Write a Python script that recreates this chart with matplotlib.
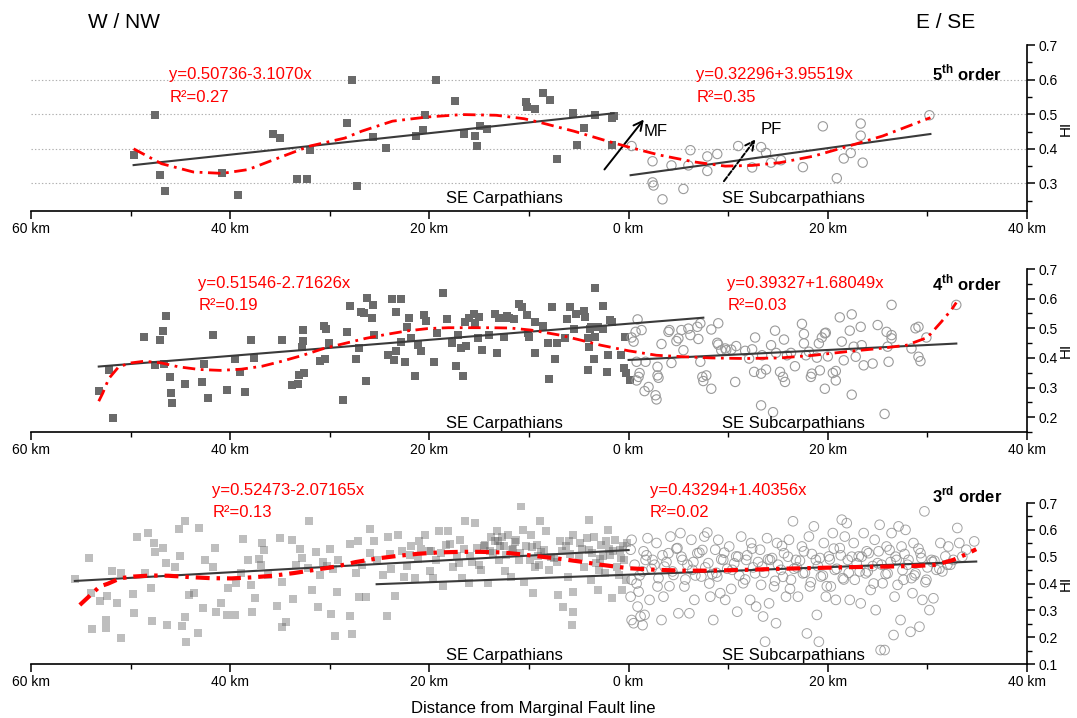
import numpy as np
import matplotlib
matplotlib.use("Agg")
import matplotlib.pyplot as plt
from matplotlib.ticker import FixedLocator, MultipleLocator

plt.rcParams['font.family'] = ['Liberation Sans', 'DejaVu Sans']
plt.rcParams['lines.scale_dashes'] = False

## data (distance in km, negative = W/NW of the Marginal Fault)
xticks = [-60, -40, -20, 0, 20, 40]
xticklabels = ["60 km", "40 km", "20 km", "0 km", "20 km", "40 km"]

# 5th order
p1_sq_km = [-49.7, -47.6, -47.0, -46.5, -40.8, -39.2, -35.7, -35.0, -33.3, -32.3, -32.0, -28.3, -27.8,
            -27.3, -25.7, -24.4, -21.3, -20.6, -20.4, -19.3, -17.4, -16.5, -15.4, -15.2, -14.9, -14.2,
            -10.3, -10.2, -9.4, -8.6, -7.9, -7.2, -5.6, -5.2, -4.5, -3.4, -1.7, -1.5, -1.7]
p1_sq_hi = [0.383, 0.498, 0.324, 0.279, 0.330, 0.267, 0.444, 0.432, 0.312, 0.312, 0.398, 0.474, 0.599,
            0.292, 0.434, 0.402, 0.437, 0.454, 0.498, 0.600, 0.537, 0.443, 0.438, 0.409, 0.465, 0.456,
            0.534, 0.520, 0.516, 0.560, 0.540, 0.372, 0.503, 0.411, 0.460, 0.497, 0.490, 0.495, 0.411]
p1_ci_km = [0.3, 2.4, 2.4, 2.5, 3.4, 4.3, 5.5, 6.2, 6.0, 7.9, 7.9, 8.9, 11.0, 12.4, 13.3, 13.8, 14.3,
            15.3, 17.5, 19.5, 20.9, 21.6, 22.3, 23.3, 23.3, 23.5, 30.2]
p1_ci_hi = [0.408, 0.364, 0.303, 0.294, 0.254, 0.352, 0.284, 0.396, 0.352, 0.378, 0.336, 0.385, 0.408,
            0.346, 0.405, 0.388, 0.360, 0.367, 0.347, 0.465, 0.315, 0.372, 0.388, 0.473, 0.438, 0.360,
            0.497]
p1_curve_km = [-49.7, -46.9, -43.7, -40.8, -38.2, -35.4, -32.0, -28.5, -26.8, -23.7, -20.2, -16.7, -13.3,
               -10.5, -9.0, -5.5, -2.1, 0.0, 3.1, 6.6, 9.7, 12.4, 15.2, 18.6, 22.1, 25.5, 30.3]
p1_curve_hi = [0.400, 0.357, 0.333, 0.329, 0.340, 0.371, 0.408, 0.431, 0.451, 0.480, 0.492, 0.499, 0.497,
               0.487, 0.477, 0.451, 0.422, 0.405, 0.382, 0.362, 0.350, 0.352, 0.360, 0.379, 0.408, 0.437,
               0.490]

# 4th order
p2_sq_km = [-53.2, -52.2, -51.8, -48.7, -47.6, -47.1, -46.7, -46.4, -46.6, -46.0, -45.9, -45.8, -44.5,
            -42.8, -42.6, -42.2, -41.7, -40.3, -39.5, -39.0, -38.5, -37.9, -37.6, -34.8, -33.8, -33.2,
            -33.1, -32.6, -32.8, -32.7, -32.7, -30.6, -30.4, -31.0, -30.5, -30.1, -28.7, -28.3, -28.0,
            -27.4, -27.1, -26.9, -26.6, -26.4, -26.3, -25.8, -25.7, -25.6, -24.2, -23.8, -23.6, -23.4,
            -23.4, -22.9, -22.9, -22.5, -22.3, -22.1, -21.8, -21.4, -21.1, -20.8, -20.5, -20.3, -19.5,
            -19.2, -18.6, -18.2, -17.7, -17.3, -17.1, -16.8, -16.6, -16.3, -16.4, -16.0, -15.5, -15.4,
            -15.1, -15.0, -14.7, -14.0, -13.4, -13.2, -13.0, -12.6, -12.5, -12.2, -12.0, -11.5, -11.0,
            -10.7, -10.2, -10.1, -10.0, -9.4, -9.4, -8.6, -8.1, -8.0, -7.7, -7.4, -7.2, -6.4, -6.2,
            -5.9, -5.5, -5.3, -4.5, -4.4, -4.1, -4.0, -3.9, -4.1, -3.8, -3.5, -3.4, -3.1, -3.4, -2.6,
            -2.6, -2.2, -2.1, -1.9, -1.7, -0.8, -0.5, -0.4, -0.3, 0.1]
p2_sq_hi = [0.287, 0.358, 0.197, 0.469, 0.375, 0.462, 0.491, 0.542, 0.379, 0.335, 0.282, 0.248, 0.311,
            0.319, 0.378, 0.266, 0.476, 0.292, 0.398, 0.354, 0.284, 0.462, 0.399, 0.459, 0.307, 0.313,
            0.343, 0.350, 0.438, 0.458, 0.495, 0.509, 0.496, 0.390, 0.398, 0.449, 0.259, 0.488, 0.576,
            0.398, 0.435, 0.556, 0.551, 0.322, 0.602, 0.534, 0.580, 0.477, 0.410, 0.598, 0.393, 0.554,
            0.422, 0.600, 0.455, 0.386, 0.505, 0.534, 0.466, 0.340, 0.443, 0.423, 0.545, 0.526, 0.385,
            0.483, 0.619, 0.531, 0.449, 0.372, 0.477, 0.434, 0.338, 0.440, 0.522, 0.534, 0.548, 0.519,
            0.466, 0.538, 0.426, 0.477, 0.548, 0.418, 0.534, 0.534, 0.471, 0.542, 0.534, 0.530, 0.582,
            0.571, 0.545, 0.483, 0.471, 0.522, 0.416, 0.509, 0.452, 0.330, 0.571, 0.398, 0.452, 0.466,
            0.530, 0.573, 0.496, 0.547, 0.560, 0.539, 0.466, 0.438, 0.499, 0.358, 0.503, 0.398, 0.471,
            0.505, 0.636, 0.576, 0.499, 0.353, 0.409, 0.528, 0.522, 0.411, 0.366, 0.471, 0.349, 0.324]
p2_ci_km = [0.9, 0.7, 1.3, 0.3, 0.5, 0.8, 1.1, 0.8, 1.0, 1.6, 2.0, 1.7, 2.7, 2.8, 2.9, 3.0, 2.9, 3.3,
            4.1, 4.0, 4.3, 4.8, 5.0, 5.3, 5.5, 6.0, 6.2, 6.9, 7.0, 7.2, 7.2, 7.4, 7.5, 7.8, 8.3, 8.3,
            9.0, 8.9, 9.0, 9.3, 9.7, 9.8, 10.3, 10.8, 10.7, 11.7, 12.1, 12.4, 12.7, 12.6, 13.3, 13.3,
            13.4, 13.8, 14.3, 14.7, 14.5, 14.8, 15.2, 15.5, 15.7, 15.6, 15.9, 16.3, 16.7, 17.4, 17.6,
            17.6, 17.8, 18.1, 18.3, 18.4, 18.9, 19.1, 19.2, 19.4, 19.7, 19.8, 19.7, 20.0, 20.5, 20.8,
            20.8, 21.2, 21.4, 21.6, 22.2, 22.4, 22.4, 22.6, 22.8, 23.3, 23.4, 23.6, 24.5, 25.0, 25.7,
            25.9, 26.0, 26.1, 26.4, 26.4, 26.4, 28.4, 28.8, 29.1, 29.1, 29.3, 29.9, 32.9]
p2_ci_hi = [0.530, 0.488, 0.494, 0.469, 0.455, 0.387, 0.349, 0.324, 0.336, 0.288, 0.302, 0.387, 0.274,
            0.260, 0.341, 0.333, 0.370, 0.447, 0.494, 0.488, 0.383, 0.457, 0.466, 0.494, 0.426, 0.499,
            0.477, 0.505, 0.464, 0.517, 0.387, 0.336, 0.322, 0.341, 0.496, 0.296, 0.517, 0.451, 0.445,
            0.426, 0.432, 0.426, 0.428, 0.440, 0.319, 0.424, 0.398, 0.429, 0.469, 0.353, 0.240, 0.347,
            0.409, 0.361, 0.443, 0.492, 0.217, 0.417, 0.353, 0.336, 0.319, 0.462, 0.409, 0.417, 0.372,
            0.515, 0.481, 0.449, 0.409, 0.421, 0.336, 0.347, 0.401, 0.449, 0.358, 0.469, 0.483, 0.485,
            0.296, 0.405, 0.349, 0.324, 0.356, 0.537, 0.455, 0.392, 0.492, 0.547, 0.276, 0.438, 0.404,
            0.505, 0.443, 0.375, 0.381, 0.511, 0.211, 0.488, 0.438, 0.387, 0.579, 0.466, 0.477, 0.432,
            0.500, 0.505, 0.404, 0.389, 0.469, 0.579]
p2_curve_km = [-53.2, -52.8, -52.2, -51.2, -50.0, -48.6, -46.9, -45.2, -43.1, -41.0, -38.9, -36.8, -34.8,
               -32.7, -30.6, -28.5, -26.4, -24.4, -22.3, -20.2, -18.1, -16.1, -14.0, -11.9, -9.8, -6.9,
               -4.8, -2.8, 0.0, 2.8, 5.5, 8.3, 11.7, 15.2, 18.6, 22.1, 25.5, 27.9, 30.0, 31.4, 32.4, 32.9]
p2_curve_hi = [0.254, 0.281, 0.330, 0.370, 0.383, 0.389, 0.383, 0.370, 0.361, 0.358, 0.362, 0.372, 0.389,
               0.409, 0.432, 0.449, 0.466, 0.479, 0.491, 0.499, 0.502, 0.502, 0.502, 0.501, 0.494, 0.477,
               0.460, 0.443, 0.424, 0.409, 0.404, 0.400, 0.398, 0.400, 0.409, 0.422, 0.433, 0.443, 0.469,
               0.522, 0.562, 0.587]

# 3rd order
p3_sq_km = [-55.6, -54.2, -54.0, -53.9, -53.1, -52.5, -52.5, -52.4, -51.9, -51.4, -51.0, -51.0, -49.8,
            -49.7, -49.4, -48.6, -48.3, -48.0, -47.9, -47.7, -47.6, -46.7, -46.4, -46.3, -45.5, -45.1,
            -45.0, -44.8, -44.5, -44.5, -44.4, -44.1, -43.6, -43.2, -43.1, -42.7, -42.5, -41.7, -41.5,
            -41.4, -40.9, -40.3, -40.2, -39.5, -39.4, -38.7, -38.2, -37.9, -37.8, -37.5, -37.1, -36.9,
            -36.8, -36.6, -35.3, -35.0, -34.8, -34.8, -34.4, -33.8, -33.7, -33.0, -32.8, -32.2, -32.1,
            -31.8, -31.4, -31.2, -31.0, -30.7, -30.3, -30.0, -29.9, -29.5, -29.3, -29.2, -28.0, -28.0,
            -27.8, -27.4, -27.2, -27.1, -26.4, -26.0, -26.0, -25.6, -25.3, -24.7, -24.3, -24.2, -23.9,
            -23.5, -23.2, -22.8, -22.6, -22.3, -21.8, -21.4, -21.1, -21.0, -20.4, -20.0, -19.9, -19.6,
            -19.3, -19.0, -18.6, -18.3, -18.1, -17.6, -17.2, -16.9, -16.7, -16.4, -16.0, -15.7, -15.4,
            -15.2, -14.8, -14.5, -14.1, -13.8, -13.6, -13.4, -13.2, -13.0, -12.7, -12.5, -12.4, -12.1,
            -11.8, -11.7, -11.3, -11.0, -10.8, -10.6, -10.5, -10.3, -9.9, -9.8, -9.6, -9.4, -9.2, -9.1,
            -8.9, -8.3, -8.5, -8.0, -7.5, -7.1, -6.9, -6.6, -6.3, -6.1, -5.7, -5.6, -5.6, -5.6, -5.0,
            -4.9, -4.5, -4.0, -4.0, -3.8, -3.5, -3.3, -3.1, -2.8, -2.6, -2.4, -2.3, -2.1, -1.7, -1.6,
            -1.4, -1.2, -1.0, -0.9, -0.7, -0.5, -0.3, -0.2,
            -24.0, -22.0, -20.8, -19.8, -18.8, -17.9, -16.5, -15.9, -14.4, -13.9, -12.9, -12.3, -11.6,
            -10.9, -9.7, -8.8, -7.8, -6.7, -5.9, -4.7, -3.7, -2.9, -1.9, -0.8, -13.1, -11.4, -6.0,
            -4.2, -2.0, -0.6, -17.0, -15.0, -9.0, -7.2, -3.0, -26.8, -29.7, -33.4, -36.2, -38.9]
p3_sq_hi = [0.416, 0.495, 0.366, 0.229, 0.333, 0.264, 0.233, 0.354, 0.445, 0.329, 0.198, 0.438, 0.361,
            0.289, 0.575, 0.438, 0.588, 0.385, 0.262, 0.551, 0.519, 0.532, 0.476, 0.245, 0.463, 0.604,
            0.503, 0.242, 0.634, 0.277, 0.183, 0.358, 0.364, 0.214, 0.607, 0.308, 0.488, 0.461, 0.532,
            0.295, 0.329, 0.283, 0.382, 0.283, 0.401, 0.566, 0.488, 0.394, 0.295, 0.345, 0.491, 0.470,
            0.551, 0.526, 0.316, 0.569, 0.404, 0.239, 0.255, 0.563, 0.341, 0.528, 0.495, 0.457, 0.634,
            0.376, 0.516, 0.314, 0.432, 0.482, 0.466, 0.528, 0.287, 0.204, 0.370, 0.488, 0.548, 0.279,
            0.211, 0.441, 0.557, 0.351, 0.351, 0.603, 0.513, 0.557, 0.488, 0.432, 0.279, 0.573, 0.453,
            0.354, 0.582, 0.520, 0.426, 0.466, 0.538, 0.420, 0.491, 0.557, 0.582, 0.520, 0.445, 0.420,
            0.488, 0.594, 0.389, 0.544, 0.594, 0.463, 0.501, 0.563, 0.420, 0.632, 0.401, 0.482, 0.625,
            0.532, 0.451, 0.538, 0.401, 0.573, 0.513, 0.557, 0.594, 0.488, 0.575, 0.538, 0.448, 0.582,
            0.426, 0.526, 0.563, 0.488, 0.688, 0.600, 0.407, 0.538, 0.488, 0.582, 0.364, 0.463, 0.544,
            0.501, 0.632, 0.594, 0.526, 0.451, 0.495, 0.358, 0.557, 0.314, 0.538, 0.426, 0.245, 0.582,
            0.295, 0.370, 0.501, 0.551, 0.463, 0.638, 0.526, 0.414, 0.575, 0.476, 0.376, 0.544, 0.501,
            0.438, 0.557, 0.600, 0.345, 0.520, 0.563, 0.463, 0.432, 0.526, 0.376, 0.488, 0.414, 0.551,
            0.510, 0.505, 0.530, 0.520, 0.512, 0.548, 0.530, 0.502, 0.545, 0.520, 0.540, 0.505, 0.528,
            0.515, 0.535, 0.518, 0.500, 0.520, 0.510, 0.530, 0.512, 0.490, 0.508, 0.495, 0.560, 0.555,
            0.560, 0.570, 0.530, 0.540, 0.478, 0.470, 0.470, 0.480, 0.450, 0.470, 0.455, 0.470, 0.430,
            0.440]
p3_ci_km = [0.3, 0.2, 0.3, 0.2, 0.3, 0.5, 0.9, 1.0, 1.2, 1.4, 1.6, 1.4, 1.7, 1.9, 2.1, 2.4, 2.8, 2.9,
            3.3, 3.5, 3.6, 4.0, 4.2, 4.5, 4.9, 5.0, 5.2, 5.4, 5.6, 6.1, 6.3, 6.4, 6.6, 6.9, 7.3, 7.6,
            7.9, 8.0, 8.2, 8.5, 8.7, 8.9, 9.0, 9.2, 9.5, 9.7, 10.1, 10.4, 10.8, 10.9, 11.3, 11.5, 11.8,
            12.2, 12.3, 12.7, 12.8, 13.2, 13.4, 13.5, 13.7, 13.9, 14.1, 14.2, 14.6, 14.8, 14.9, 15.3,
            15.6, 15.8, 16.1, 16.3, 16.5, 16.8, 17.0, 17.4, 17.5, 17.9, 18.1, 18.2, 18.6, 18.8, 18.9,
            19.1, 19.3, 19.6, 19.8, 20.1, 20.3, 20.5, 20.7, 20.8, 21.2, 21.4, 21.5, 21.7, 21.9, 22.0,
            22.2, 22.6, 22.7, 23.1, 23.3, 23.6, 23.8, 24.1, 24.3, 24.7, 24.8, 25.0, 25.2, 25.3, 25.7,
            25.5, 25.9, 26.0, 26.4, 26.6, 26.7, 26.9, 27.1, 27.3, 27.4, 27.6, 27.8, 28.1, 28.3, 28.5,
            28.6, 28.8, 29.2, 29.3, 29.5, 29.7, 29.9, 30.2, 30.4, 30.6, 30.9, 31.3, 31.8, 32.1, 32.6,
            33.0, 33.2, 33.9, 34.7,
            0.6, 1.1, 1.8, 2.3, 3.0, 3.8, 4.4, 5.3, 5.9, 6.7, 7.1, 7.7, 8.4, 9.3, 9.9, 10.6, 11.1,
            11.9, 12.5, 13.0, 13.6, 14.4, 15.0, 15.5, 16.0, 16.6, 17.2, 17.7, 18.4, 19.0, 19.5, 20.2,
            20.9, 21.3, 22.1, 22.9, 23.4, 24.0, 24.5, 25.1, 25.8, 26.3, 26.8, 27.5, 28.0, 28.7, 29.4,
            30.0, 30.7, 31.5, 32.3, 33.5,
            0.8, 1.5, 2.6, 3.4, 4.1, 4.8, 5.7, 6.5, 7.4, 8.1, 8.8, 9.6, 10.3, 11.0, 11.7, 12.4, 13.3,
            14.0, 14.7, 15.4, 16.2, 16.9, 17.6, 18.3, 19.2, 19.9, 20.6, 21.6, 22.4, 23.2, 23.9, 24.6,
            25.4, 26.2, 27.0, 27.7, 28.4, 29.1, 29.8, 30.5, 31.2, 32.0]
p3_ci_hi = [0.563, 0.526, 0.414, 0.351, 0.264, 0.252, 0.314, 0.370, 0.277, 0.245, 0.283, 0.445, 0.488,
            0.569, 0.339, 0.488, 0.551, 0.389, 0.264, 0.351, 0.463, 0.513, 0.575, 0.432, 0.532, 0.289,
            0.588, 0.488, 0.389, 0.289, 0.563, 0.451, 0.339, 0.513, 0.426, 0.575, 0.590, 0.476, 0.351,
            0.264, 0.526, 0.426, 0.563, 0.364, 0.488, 0.339, 0.538, 0.451, 0.501, 0.295, 0.575, 0.401,
            0.488, 0.339, 0.551, 0.438, 0.314, 0.526, 0.463, 0.277, 0.183, 0.569, 0.326, 0.488, 0.389,
            0.252, 0.551, 0.451, 0.513, 0.351, 0.563, 0.414, 0.632, 0.488, 0.351, 0.538, 0.438, 0.214,
            0.575, 0.389, 0.613, 0.488, 0.283, 0.183, 0.426, 0.551, 0.351, 0.501, 0.389, 0.588, 0.451,
            0.339, 0.532, 0.638, 0.420, 0.575, 0.625, 0.488, 0.339, 0.551, 0.414, 0.501, 0.326, 0.588,
            0.438, 0.513, 0.376, 0.563, 0.301, 0.476, 0.619, 0.152, 0.152, 0.401, 0.538, 0.438, 0.588,
            0.208, 0.351, 0.488, 0.613, 0.264, 0.538, 0.414, 0.600, 0.488, 0.220, 0.364, 0.551, 0.438,
            0.239, 0.513, 0.339, 0.669, 0.414, 0.301, 0.488, 0.345, 0.451, 0.551, 0.501, 0.538, 0.488,
            0.607, 0.551, 0.526, 0.557,
            0.470, 0.430, 0.505, 0.455, 0.420, 0.480, 0.445, 0.500, 0.470, 0.430, 0.515, 0.460, 0.435,
            0.490, 0.455, 0.475, 0.430, 0.505, 0.460, 0.480, 0.440, 0.495, 0.470, 0.425, 0.500, 0.455,
            0.485, 0.440, 0.510, 0.465, 0.430, 0.490, 0.455, 0.505, 0.440, 0.475, 0.500, 0.445, 0.465,
            0.520, 0.435, 0.480, 0.500, 0.450, 0.470, 0.430, 0.495, 0.460, 0.485, 0.445, 0.470, 0.500,
            0.400, 0.520, 0.470, 0.505, 0.390, 0.530, 0.415, 0.480, 0.525, 0.400, 0.440, 0.515, 0.380,
            0.500, 0.415, 0.530, 0.395, 0.490, 0.410, 0.540, 0.380, 0.460, 0.520, 0.405, 0.495, 0.390,
            0.530, 0.415, 0.500, 0.445, 0.520, 0.400, 0.470, 0.525, 0.395, 0.510, 0.420, 0.530, 0.405,
            0.480, 0.455, 0.470]
p3_curve_km = [-55.1, -54.0, -53.1, -52.3, -51.0, -49.7, -47.9, -46.2, -44.1, -42.0, -39.9, -37.8, -35.7,
               -33.6, -31.5, -29.4, -27.4, -25.3, -23.2, -21.1, -19.0, -16.9, -14.8, -12.7, -10.6, -9.0,
               -6.9, -4.9, -2.8, 0.0, 2.8, 5.6, 8.3, 11.8, 15.3, 18.8, 22.2, 25.7, 29.2, 30.9, 32.6,
               34.0, 34.9]
p3_curve_hi = [0.320, 0.358, 0.389, 0.399, 0.420, 0.426, 0.430, 0.429, 0.424, 0.420, 0.419, 0.423, 0.429,
               0.439, 0.451, 0.463, 0.480, 0.493, 0.503, 0.511, 0.516, 0.518, 0.518, 0.516, 0.508, 0.501,
               0.492, 0.482, 0.470, 0.457, 0.451, 0.448, 0.448, 0.451, 0.455, 0.458, 0.461, 0.463, 0.466,
               0.470, 0.488, 0.511, 0.528]

# linear fits: intercept, slope (x = distance / 1000 km), drawn extent in km
fits_left = [(0.50736, -3.1070, -49.7, -1.5), (0.51546, -2.71626, -53.2, 7.5), (0.52473, -2.07165, -55.6, 0.0)]
fits_right = [(0.32296, 3.95519, 0.2, 30.3), (0.39327, 1.68049, 0.0, 32.9), (0.43294, 1.40356, -25.3, 34.9)]
r2_left = ["0.27", "0.19", "0.13"]
r2_right = ["0.35", "0.03", "0.02"]
orders = ["5", "4", "3"]
order_sup = ["th", "th", "rd"]
ylims = [(0.22, 0.7), (0.15, 0.7), (0.1, 0.7)]

panels = [
    (p1_sq_km, p1_sq_hi, p1_ci_km, p1_ci_hi, p1_curve_km, p1_curve_hi),
    (p2_sq_km, p2_sq_hi, p2_ci_km, p2_ci_hi, p2_curve_km, p2_curve_hi),
    (p3_sq_km, p3_sq_hi, p3_ci_km, p3_ci_hi, p3_curve_km, p3_curve_hi),
]

## plot
fig = plt.figure(figsize=(10.77, 7.18), dpi=100)
boxes = [[0.0288, 0.706, 0.9248, 0.2313],
         [0.0288, 0.3983, 0.9248, 0.227],
         [0.0288, 0.0752, 0.9248, 0.2242]]
# text heights (HI) for equation rows, order label, region labels
eq_y = [(0.615, 0.549), (0.652, 0.576), (0.747, 0.663)]
order_y = [0.620, 0.652, 0.731]
region_y = [0.257, 0.180, 0.133]
eq_x = [(-46.1, 6.8), (-43.2, 9.9), (-41.8, 2.1)]

for i, ax_box in enumerate(boxes):
    ax = fig.add_axes(ax_box)
    sq_km, sq_hi, ci_km, ci_hi, cv_km, cv_hi = panels[i]

    if i == 0:
        for g in [0.3, 0.4, 0.5, 0.6]:
            ax.axhline(g, color="#b0b0b0", lw=0.8, ls=(0, (1, 1.5)), zorder=0)

    if i < 2:
        ax.scatter(sq_km, sq_hi, marker="s", s=30, color="#6a6a6a", linewidths=0, zorder=2)
        ax.scatter(ci_km, ci_hi, marker="o", s=45, facecolors="none", edgecolors="#9a9a9a",
                   linewidths=0.8, zorder=2)
    else:
        ax.scatter(sq_km, sq_hi, marker="s", s=32, color="#555555", alpha=0.38, linewidths=0, zorder=2)
        ax.scatter(ci_km, ci_hi, marker="o", s=48, facecolors="none", edgecolors="#8c8c8c",
                   linewidths=0.7, alpha=0.8, zorder=2)

    for a, b, x0, x1 in [fits_left[i]]:
        xs = np.array([x0, x1])
        ax.plot(xs, a + b * (-xs / 1000.0), color="#3a3a3a", lw=1.5, zorder=3)
    for a, b, x0, x1 in [fits_right[i]]:
        xs = np.array([x0, x1])
        ax.plot(xs, a + b * (xs / 1000.0), color="#3a3a3a", lw=1.5, zorder=3)

    if i < 2:
        ax.plot(cv_km, cv_hi, color="red", lw=2.0, dashes=(9, 4, 2, 4), zorder=4)
    else:
        ax.plot(cv_km, cv_hi, color="red", lw=3.0, dashes=(10, 5, 2.5, 5), zorder=4)

    # labels
    a_l, b_l = fits_left[i][0], fits_left[i][1]
    a_r, b_r = fits_right[i][0], fits_right[i][1]
    ax.text(eq_x[i][0], eq_y[i][0], f"y={a_l:.5f}".rstrip() + f"{b_l:.4f}x" if i == 0 else f"y={a_l:.5f}{b_l:.5f}x",
            color="red", fontsize=12, va="center", ha="left")
    ax.text(eq_x[i][0], eq_y[i][1], f"R\u00b2={r2_left[i]}", color="red", fontsize=12, va="center", ha="left")
    ax.text(eq_x[i][1], eq_y[i][0], f"y={a_r:.5f}+{b_r:.5f}x", color="red", fontsize=12, va="center", ha="left")
    ax.text(eq_x[i][1], eq_y[i][1], f"R\u00b2={r2_right[i]}", color="red", fontsize=12, va="center", ha="left")
    ax.text(37.5, order_y[i], orders[i] + r"$^{\mathregular{" + order_sup[i] + "}}$ order",
            fontsize=12, fontweight="bold", ha="right", va="center")
    ax.text(-6.6, region_y[i], "SE Carpathians", fontsize=12, ha="right", va="center")
    ax.text(16.5, region_y[i], "SE Subcarpathians", fontsize=12, ha="center", va="center")

    if i == 0:
        ax.annotate("", xy=(1.7, 0.491), xytext=(-2.6, 0.334),
                    arrowprops=dict(arrowstyle="->", lw=1.4, color="black", mutation_scale=16))
        ax.text(1.5, 0.449, "MF", fontsize=12, ha="left", va="center")
        ax.annotate("", xy=(12.9, 0.434), xytext=(9.4, 0.30),
                    arrowprops=dict(arrowstyle="->", lw=1.4, color="black", ls="--", mutation_scale=16))
        ax.text(13.3, 0.457, "PF", fontsize=12, ha="left", va="center")

    # axes styling
    ax.set_xlim(-60, 40)
    ax.set_ylim(*ylims[i])
    ax.spines["top"].set_visible(False)
    ax.spines["left"].set_visible(False)
    ax.spines["bottom"].set_linewidth(1.2)
    ax.spines["right"].set_linewidth(1.2)
    ax.xaxis.set_major_locator(FixedLocator(xticks))
    ax.set_xticklabels(xticklabels, fontsize=10)
    ax.xaxis.set_minor_locator(FixedLocator([-50, -30, -10, 10, 30]))
    ax.yaxis.tick_right()
    ax.yaxis.set_major_locator(MultipleLocator(0.1))
    ax.yaxis.set_minor_locator(MultipleLocator(0.05))
    ax.set_yticks([t for t in np.round(np.arange(0.1, 0.71, 0.1), 1) if t >= ylims[i][0] - 1e-9])
    ax.set_yticklabels([f"{t:.1f}" for t in ax.get_yticks()], fontsize=10)
    ax.tick_params(axis="both", which="major", direction="out", length=6, width=1.1, pad=2)
    ax.tick_params(axis="both", which="minor", direction="out", length=3.5, width=1.0)
    ax.tick_params(axis="y", which="both", left=False, right=True)
    ax.patch.set_visible(False)

    # HI axis title, kept inside the canvas
    box = ax.get_position()
    fig.text(1066 / 1077, box.y0 + box.height / 2, "HI", fontsize=11, rotation=90,
             ha="center", va="center")

fig.text(88 / 1077, 1 - 23 / 718, "W / NW", fontsize=15, ha="left", va="center")
fig.text(975 / 1077, 1 - 23 / 718, "E / SE", fontsize=15, ha="right", va="center")
fig.text(533 / 1077, 1 - 708 / 718, "Distance from Marginal Fault line", fontsize=12, ha="center", va="center")

fig.savefig("out.png", dpi=100)
